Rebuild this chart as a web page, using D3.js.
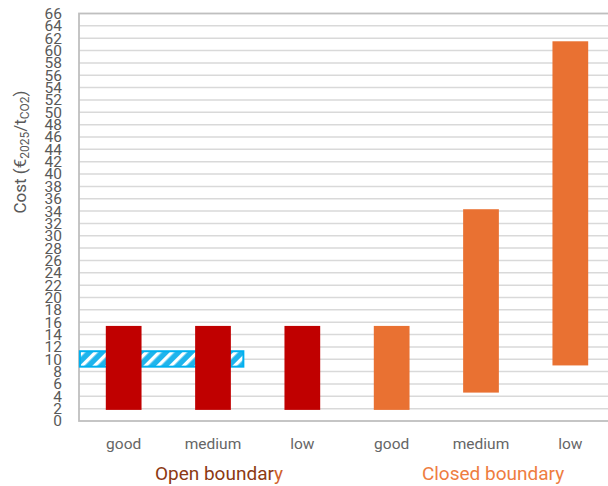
<!DOCTYPE html>
<html>
<head>
<meta charset="utf-8">
<script src="https://cdn.jsdelivr.net/npm/d3@7"></script>
<style>
  html, body { margin: 0; padding: 0; background: #fff; }
  svg { display: block; font-family: Roboto, "Noto Sans", sans-serif; }
</style>
</head>
<body>
<svg id="chart" width="608" height="486"></svg>
<script>
// Cost ranges (€2025 per tonne CO2) per boundary and quality class
const categories = ["good", "medium", "low", "good ", "medium ", "low "];
const categoryLabels = ["good", "medium", "low", "good", "medium", "low"];
const groups = ["Open boundary", "Open boundary", "Open boundary",
                "Closed boundary", "Closed boundary", "Closed boundary"];
const costLow  = [1.8, 1.8, 1.8, 1.8, 4.6, 9.0];
const costHigh = [15.4, 15.4, 15.4, 15.4, 34.3, 61.5];

// Reference band (hatched), spanning category positions
const refSpan  = [-0.49, 1.34];
const refRange = [8.8, 11.3];

const yTicks = d3.range(0, 67, 2);
const groupNames = ["Open boundary", "Closed boundary"];

const svg = d3.select("#chart");
const margin = { left: 79, right: -7, top: 13.5, bottom: 65 };
const W = 608, H = 486;
const x0 = margin.left, x1 = W - margin.right;
const yTop = margin.top, yBot = H - margin.bottom;

const x = d3.scaleBand().domain(categories).range([x0, x1])
  .paddingInner(0.6).paddingOuter(0.3);
const y = d3.scaleLinear().domain([0, 66]).range([yBot, yTop]);
const pos = d3.scaleLinear().domain([-0.5, categories.length - 0.5]).range([x0, x1]);

const fillFor = g => g === "Open boundary" ? "#C00000" : "#E97132";

// Stripe pattern for the reference band
const defs = svg.append("defs");
const pat = defs.append("pattern").attr("id", "hatch")
  .attr("patternUnits", "userSpaceOnUse").attr("width", 9).attr("height", 9)
  .attr("patternTransform", "rotate(45)");
pat.append("rect").attr("width", 9).attr("height", 9).attr("fill", "#1FB4EC");
pat.append("rect").attr("x", 0).attr("width", 3.4).attr("height", 9).attr("fill", "#ffffff");

// Gridlines
svg.append("g").selectAll("line").data(yTicks.filter(t => t > 0 && t < 66)).join("line")
  .attr("x1", x0).attr("x2", x1)
  .attr("y1", d => y(d)).attr("y2", d => y(d))
  .attr("stroke", "#D9D9D9").attr("stroke-width", 1.5);

// Plot frame
svg.append("rect").attr("x", x0).attr("y", yTop)
  .attr("width", x1 - x0).attr("height", yBot - yTop)
  .attr("fill", "none").attr("stroke", "#BFBFBF").attr("stroke-width", 1.8);

// Y axis tick labels
const yAxis = d3.axisLeft(y).tickValues(yTicks).tickSize(0).tickPadding(0);
const gy = svg.append("g").attr("transform", `translate(${x0 - 17},0)`).call(yAxis);
gy.select(".domain").remove();
gy.selectAll("text").attr("fill", "#595959").style("font-size", "15.5px")
  .style("font-family", "Roboto, sans-serif");

// Reference band
svg.append("rect")
  .attr("x", pos(refSpan[0])).attr("width", pos(refSpan[1]) - pos(refSpan[0]))
  .attr("y", y(refRange[1])).attr("height", y(refRange[0]) - y(refRange[1]))
  .attr("fill", "url(#hatch)").attr("stroke", "#00B0F0").attr("stroke-width", 2);

// Range bars
svg.append("g").selectAll("rect").data(categories).join("rect")
  .attr("x", d => x(d)).attr("width", x.bandwidth())
  .attr("y", (d, i) => y(costHigh[i]))
  .attr("height", (d, i) => y(costLow[i]) - y(costHigh[i]))
  .attr("fill", (d, i) => fillFor(groups[i]));

// Category labels
svg.append("g").selectAll("text").data(categories).join("text")
  .attr("x", d => x(d) + x.bandwidth() / 2).attr("y", yBot + 28)
  .attr("text-anchor", "middle").attr("fill", "#666666")
  .style("font-size", "15.5px")
  .text((d, i) => categoryLabels[i]);

// Group labels
const groupCenter = g => {
  const idx = groups.map((v, i) => v === g ? i : -1).filter(i => i >= 0);
  return d3.mean(idx, i => x(categories[i]) + x.bandwidth() / 2);
};
const openLabel = svg.append("text")
  .attr("x", groupCenter(groupNames[0]) + 6).attr("y", yBot + 59)
  .attr("text-anchor", "middle").attr("fill", "#8C3A12")
  .style("font-size", "19px");
openLabel.append("tspan").text("Open boundar");
openLabel.append("tspan").attr("fill", "#D0622A").text("y");

svg.append("text")
  .attr("x", groupCenter(groupNames[1]) + 12).attr("y", yBot + 59)
  .attr("text-anchor", "middle").attr("fill", "#EE7D3F")
  .style("font-size", "19px").text(groupNames[1]);

// Y axis title
const title = svg.append("text")
  .attr("transform", `translate(26,${152}) rotate(-90)`)
  .attr("text-anchor", "middle").attr("fill", "#595959")
  .style("font-size", "17px");
title.append("tspan").text("Cost (€");
title.append("tspan").attr("baseline-shift", "-25%").style("font-size", "12px").text("2025");
title.append("tspan").text("/t");
title.append("tspan").attr("baseline-shift", "-25%").style("font-size", "12px").text("CO2");
title.append("tspan").text(")");
</script>
</body>
</html>
